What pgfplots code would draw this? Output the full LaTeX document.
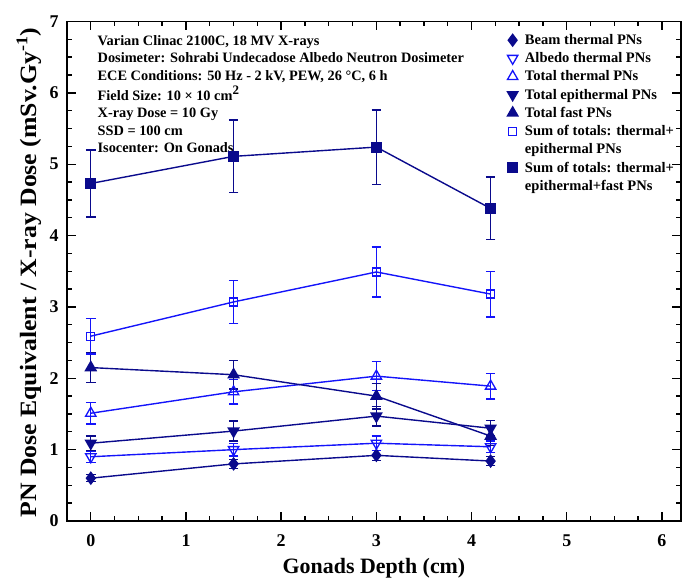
\documentclass[border=0pt]{standalone}
\usepackage{fontspec}
\setmainfont{Liberation Serif}
\usepackage{pgfplots}
\pgfplotsset{compat=1.18}
\usepackage{pgfplotstable}
\definecolor{navy}{RGB}{10,10,140}
\definecolor{bblue}{RGB}{20,20,250}

\pgfplotstableread{
x y e
0 0.60 0.05
1.5 0.80 0.06
3 0.92 0.07
4.2 0.84 0.06
}\beam
\pgfplotstableread{
x y e
0 0.90 0.08
1.5 1.00 0.09
3 1.09 0.10
4.2 1.04 0.08
}\albedo
\pgfplotstableread{
x y e
0 1.51 0.15
1.5 1.81 0.17
3 2.03 0.20
4.2 1.89 0.18
}\totth
\pgfplotstableread{
x y e
0 1.09 0.10
1.5 1.26 0.14
3 1.47 0.14
4.2 1.30 0.11
}\totepi
\pgfplotstableread{
x y e
0 2.15 0.21
1.5 2.05 0.20
3 1.75 0.18
4.2 1.19 0.13
}\totfast
\pgfplotstableread{
x y e
0 2.59 0.25
1.5 3.07 0.30
3 3.49 0.35
4.2 3.18 0.32
}\sumte
\pgfplotstableread{
x y e
0 4.73 0.47
1.5 5.11 0.51
3 5.24 0.52
4.2 4.38 0.44
}\sumall

\pgfplotsset{
  eb/.style={error bars/.cd, y dir=both, y explicit,
    error bar style={#1, line width=1.2pt},
    error mark options={#1, rotate=90, mark size=4.8bp, line width=1.2pt}},
}

\begin{document}
\begin{tikzpicture}
\begin{axis}[
  scale only axis,
  width=614bp, height=499.5bp,
  xmin=-0.25, xmax=6.2, ymin=0, ymax=7,
  xtick={0,1,...,6}, ytick={0,1,...,7},
  minor x tick num=3, minor y tick num=3,
  tick align=inside,
  major tick length=9bp, minor tick length=5bp,
  tick style={line width=1.4pt, black},
  axis line style={line width=1.6pt},
  /pgf/number format/assume math mode=true,
  ticklabel style={font=\fontsize{18}{20}\selectfont\bfseries},
  xticklabel style={yshift=-10bp},
  yticklabel style={xshift=-5bp},
  xlabel={Gonads Depth (cm)},
  ylabel={\scalebox{1.1}[1]{PN Dose Equivalent / X-ray Dose (mSv.Gy\textsuperscript{-1})}},
  xlabel style={font=\fontsize{22}{24}\selectfont\bfseries,
    at={(axis description cs:0.5,-0.094)}, anchor=center},
  ylabel style={font=\fontsize{23.5}{26}\selectfont\bfseries,
    at={(axis description cs:-0.062,0.497)}, anchor=center},
  every axis plot/.append style={line width=1.4pt},
  legend style={draw=none, fill=none, at={(axis cs:4.37,6.85)}, anchor=north west,
    font=\fontsize{14.6}{16}\selectfont\bfseries, row sep=2.6bp,
    inner sep=0pt},
  legend cell align=left,
  legend image code/.code={\draw[#1, only marks] plot coordinates {(0.2cm,0cm)};
    \path[draw=none, fill=none] (0bp,-1bp) rectangle (16bp,1bp);},
]
\addplot[navy, mark=diamond*, mark size=5.8bp, eb=navy] table[x=x,y=y,y error=e]{\beam};
\addlegendentry{Beam thermal PNs}
\addplot[bblue, mark=triangle, mark size=6bp, mark options={rotate=180, fill=white, line width=1.3pt}, eb=bblue] table[x=x,y=y,y error=e]{\albedo};
\addlegendentry{Albedo thermal PNs}
\addplot[bblue, mark=triangle, mark size=6bp, mark options={fill=white, line width=1.3pt}, eb=bblue] table[x=x,y=y,y error=e]{\totth};
\addlegendentry{Total thermal PNs}
\addplot[navy, mark=triangle*, mark size=6bp, mark options={rotate=180}, eb=navy] table[x=x,y=y,y error=e]{\totepi};
\addlegendentry{Total epithermal PNs}
\addplot[navy, mark=triangle*, mark size=6bp, eb=navy] table[x=x,y=y,y error=e]{\totfast};
\addlegendentry{Total fast PNs}
\addplot[bblue, mark=square, mark size=4bp, mark options={fill=white, line width=1.3pt}, eb=bblue] table[x=x,y=y,y error=e]{\sumte};
\addlegendentry{Sum of totals: thermal+}
\addlegendimage{empty legend}
\addlegendentry{epithermal PNs}
\addplot[navy, mark=square*, mark size=4.8bp, eb=navy] table[x=x,y=y,y error=e]{\sumall};
\addlegendentry{Sum of totals: thermal+}
\addlegendimage{empty legend}
\addlegendentry{epithermal+fast PNs}
\node[anchor=north west, align=left, inner sep=0pt,
  font=\fontsize{14.4}{17.6}\selectfont\bfseries] at (axis cs:0.07,6.81)
  {Varian Clinac 2100C, 18 MV X-rays\\
   Dosimeter: Sohrabi Undecadose Albedo Neutron Dosimeter\\
   ECE Conditions: 50 Hz - 2 kV, PEW, 26 °C, 6 h\\[2.5bp]
   Field Size: 10 × 10 cm\raisebox{0.38em}{\fontsize{13}{13}\selectfont 2}\\
   X-ray Dose = 10 Gy\\
   SSD = 100 cm\\
   Isocenter: On Gonads};
\end{axis}
\path (current axis.north west) ++(-67bp,21.5bp) coordinate (tl);
\path (current axis.south east) ++(1bp,-56bp) coordinate (br);
\path (tl) rectangle (br);
\end{tikzpicture}
\end{document}
